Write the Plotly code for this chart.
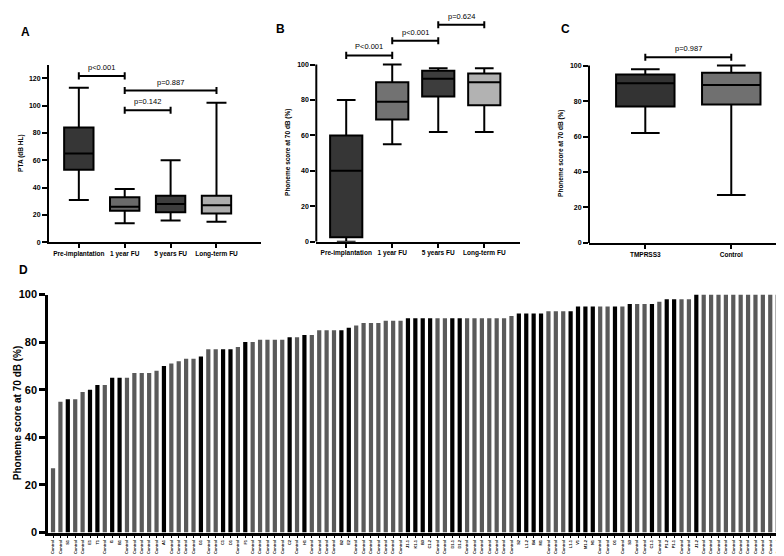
import plotly.graph_objects as go

FONT = "Liberation Sans, Arial, sans-serif"

# ---------------- Panel A : PTA ----------------
a_categories = ["Pre-implantation", "1 year FU", "5 years FU", "Long-term FU"]
a_lower = [31, 14, 16, 15]
a_q1 = [53, 23, 22, 21]
a_median = [65, 26, 28, 27]
a_q3 = [84, 33, 34, 34]
a_upper = [113, 39, 60, 102]
a_pairs = [(0, 1), (1, 3), (1, 2)]
a_levels = [121.7, 111, 96.6]
a_ptexts = ["p<0.001", "p=0.887", "p=0.142"]

# ---------------- Panel B : phoneme score ----------------
b_categories = ["Pre-implantation", "1 year FU", "5 years FU", "Long-term FU"]
b_lower = [0, 55, 62, 62]
b_q1 = [2.5, 69, 82, 77]
b_median = [40, 79, 92, 90]
b_q3 = [60, 90, 96.5, 95]
b_upper = [80, 100, 98, 98]
b_pairs = [(0, 1), (1, 2), (2, 3)]
b_levels = [105.2, 113.5, 122.5]
b_ptexts = ["P<0.001", "p<0.001", "p=0.624"]

# ---------------- Panel C : TMPRSS3 vs control ----------------
c_categories = ["TMPRSS3", "Control"]
c_lower = [62, 27]
c_q1 = [77, 78]
c_median = [90, 89]
c_q3 = [95, 96]
c_upper = [98, 100]
c_pairs = [(0, 1)]
c_levels = [104.7]
c_ptexts = ["p=0.987"]

# ---------------- Panel D : individual scores ----------------
d_values = [27, 55, 56, 56, 59, 60, 62, 62, 65, 65,
            65, 67, 67, 67, 68, 70, 71, 72, 73, 73,
            74, 77, 77, 77, 77, 78, 80, 80, 81, 81,
            81, 81, 82, 82, 83, 83, 85, 85, 85, 85,
            86, 87, 88, 88, 88, 89, 89, 89, 90, 90,
            90, 90, 90, 90, 90, 90, 90, 90, 90, 90,
            90, 90, 91, 92, 92, 92, 92, 93, 93, 93,
            93, 95, 95, 95, 95, 95, 95, 95, 96, 96,
            96, 96, 97, 98, 98, 98, 98, 100, 100, 100,
            100, 100, 100, 100, 100, 100, 100, 100, 100, 100]
d_patients = {3: "S1", 6: "E1", 7: "T1", 9: "I1", 10: "B1", 16: "A1", 21: "G1",
              24: "C1", 25: "D1", 27: "F1", 33: "C2", 35: "H1", 40: "B2", 41: "E2",
              49: "J1-1", 50: "K1-1", 51: "B3", 52: "C1-2", 55: "D1-1", 56: "D1-2",
              64: "S2", 65: "L1-2", 66: "B4", 67: "M1", 71: "L1-1", 72: "V1",
              73: "M1-2", 74: "N1", 77: "O1", 79: "S3", 82: "C1-1", 84: "P1-2",
              85: "P1-1", 88: "J1-2"}
d_labels = [d_patients.get(i + 1, "Control") for i in range(len(d_values))]
d_is_patient = [(i + 1) in d_patients for i in range(len(d_values))]

A_COLORS = ["#363636", "#6a6a6a", "#3d3d3d", "#adadad"]
B_COLORS = ["#363636", "#727272", "#3d3d3d", "#b2b2b2"]
C_COLORS = ["#333333", "#707070"]

W, H = 784, 556


def px(x):
    return x / W


def py(y):
    return 1 - y / H


fig = go.Figure()


def add_boxes(cats, lo, q1, med, q3, up, colors, xa, ya, width, whisk):
    for i, c in enumerate(cats):
        fig.add_trace(go.Box(
            x=[c], lowerfence=[lo[i]], q1=[q1[i]], median=[med[i]], q3=[q3[i]],
            upperfence=[up[i]], orientation="v", fillcolor=colors[i],
            line=dict(color="black", width=2), whiskerwidth=whisk, width=width,
            boxpoints=False, xaxis=xa, yaxis=ya, showlegend=False, hoverinfo="skip"))


add_boxes(a_categories, a_lower, a_q1, a_median, a_q3, a_upper, A_COLORS, "x", "y", 0.64, 0.68)
add_boxes(b_categories, b_lower, b_q1, b_median, b_q3, b_upper, B_COLORS, "x2", "y2", 0.70, 0.58)
add_boxes(c_categories, c_lower, c_q1, c_median, c_q3, c_upper, C_COLORS, "x3", "y3", 0.68, 0.49)

fig.add_trace(go.Bar(
    x=list(range(len(d_values))), y=d_values,
    marker=dict(color=["#000000" if p else "#5a5a5a" for p in d_is_patient], line=dict(width=0)),
    xaxis="x4", yaxis="y4", showlegend=False, hoverinfo="skip"))

shapes = []
annotations = []


def add_brackets(pairs, levels, texts, xr, yr, cap):
    for (i, j), lv, t in zip(pairs, levels, texts):
        shapes.append(dict(type="line", xref=xr, yref=yr, x0=i, x1=j, y0=lv, y1=lv,
                           line=dict(color="black", width=2)))
        for xx in (i, j):
            shapes.append(dict(type="line", xref=xr, yref=yr, x0=xx, x1=xx,
                               y0=lv - cap, y1=lv + cap, line=dict(color="black", width=2)))
        annotations.append(dict(xref=xr, yref=yr, x=(i + j) / 2, y=lv, text=t,
                                showarrow=False, yanchor="bottom", yshift=2,
                                font=dict(family=FONT, size=7.5, color="black")))


add_brackets(a_pairs, a_levels, a_ptexts, "x", "y", 2.6)
add_brackets(b_pairs, b_levels, b_ptexts, "x2", "y2", 2.0)
add_brackets(c_pairs, c_levels, c_ptexts, "x3", "y3", 2.0)

# y axis lines that stop at 100 for panels B and C
for xr, yr in (("x2 domain", "y2"), ("x3 domain", "y3")):
    shapes.append(dict(type="line", xref=xr, yref=yr, x0=0, x1=0, y0=0, y1=100,
                       line=dict(color="black", width=2)))

# panel letters
for txt, lx, ly in (("A", 17, 18), ("B", 272, 15), ("C", 557, 15), ("D", 15, 262)):
    annotations.append(dict(xref="paper", yref="paper", x=px(lx), y=py(ly),
                            text="<b>%s</b>" % txt, showarrow=False,
                            xanchor="center", yanchor="middle",
                            font=dict(family=FONT, size=12, color="black")))

# axis titles
for txt, lx, ly, sz in (("PTA (dB HL)", 13, 142, 6.5),
                        ("Phoneme score at 70 dB (%)", 280, 142, 6.5),
                        ("Phoneme score at 70 dB (%)", 553, 143, 6.5),
                        ("Phoneme score at 70 dB (%)", 9, 408, 10)):
    annotations.append(dict(xref="paper", yref="paper", x=px(lx), y=py(ly),
                            text="<b>%s</b>" % txt, showarrow=False, textangle=-90,
                            xanchor="center", yanchor="middle",
                            font=dict(family=FONT, size=sz, color="black")))

small_tick = dict(family=FONT, size=7, color="black", weight="bold")
cat_tick = dict(family=FONT, size=6.5, color="black", weight="bold")
common = dict(showgrid=False, zeroline=False, linecolor="black", ticks="outside",
              tickcolor="black")

fig.update_layout(
    width=W, height=H, margin=dict(l=0, r=0, t=0, b=0),
    paper_bgcolor="white", plot_bgcolor="white", bargap=0.43,
    font=dict(family=FONT, color="black"),
    xaxis=dict(domain=[px(41), px(253)], range=[-0.65, 3.97], type="category",
               showline=True, linewidth=2, ticklen=4, tickwidth=2, tickfont=cat_tick,
               anchor="y", **common),
    yaxis=dict(domain=[py(233.3), py(51.7)], range=[0, 130],
               tickvals=[0, 20, 40, 60, 80, 100, 120], showline=True, linewidth=2,
               ticklen=5, tickwidth=2, tickfont=small_tick, anchor="x", **common),
    xaxis2=dict(domain=[px(308.3), px(511.7)], range=[-0.65, 3.77], type="category",
                showline=True, linewidth=2, ticklen=4, tickwidth=2, tickfont=cat_tick,
                anchor="y2", **common),
    yaxis2=dict(domain=[py(232.7), py(1)], range=[0, (232.7 - 1) / 1.81],
                tickvals=[0, 20, 40, 60, 80, 100], showline=False,
                ticklen=5, tickwidth=2, tickfont=small_tick, anchor="x2", **common),
    xaxis3=dict(domain=[px(581), px(780)], range=[-0.655, 1.66], type="category",
                showline=True, linewidth=2, ticklen=4, tickwidth=2, tickfont=cat_tick,
                anchor="y3", **common),
    yaxis3=dict(domain=[py(234), py(34.6)], range=[0, 110],
                tickvals=[0, 20, 40, 60, 80, 100], showline=False,
                ticklen=5, tickwidth=2, tickfont=small_tick, anchor="x3", **common),
    xaxis4=dict(domain=[px(40), px(780)], range=[-0.68, 99.4],
                tickvals=list(range(len(d_values))), ticktext=d_labels, tickangle=-90,
                showline=True, linewidth=2.5, ticklen=3, tickwidth=1,
                tickfont=dict(family=FONT, size=4, color="black", weight="bold"),
                anchor="y4", **common),
    yaxis4=dict(domain=[py(530), py(286.7)], range=[0, 100],
                tickvals=[0, 20, 40, 60, 80, 100], showline=True, linewidth=2.5,
                ticklen=6, tickwidth=2.5,
                tickfont=dict(family=FONT, size=11, color="black", weight="bold"),
                anchor="x4", **common),
    shapes=shapes, annotations=annotations,
)

fig.write_html("out.html")
